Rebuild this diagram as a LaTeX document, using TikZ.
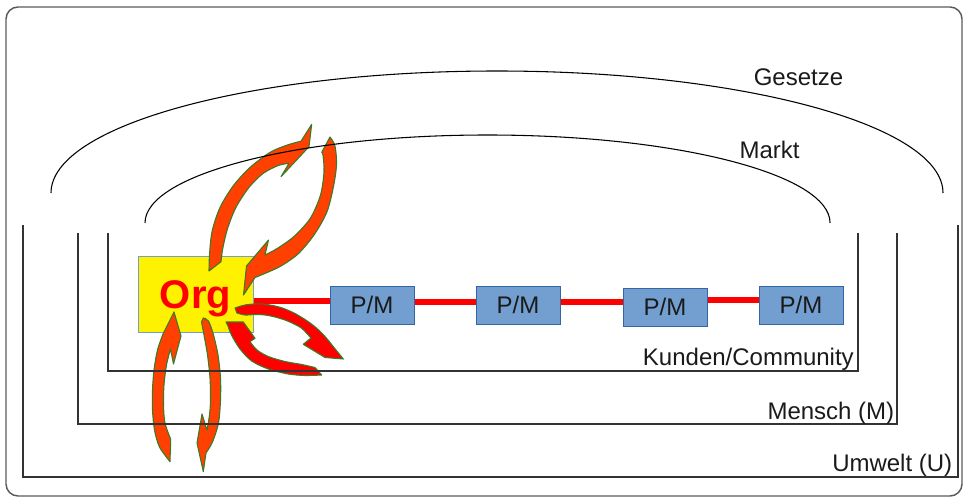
\documentclass[tikz,border=0pt]{standalone}
\usepackage{fontspec}
\setmainfont{Liberation Sans}
\usetikzlibrary{calc}
\definecolor{pmfill}{HTML}{729FCF}
\definecolor{pmdraw}{HTML}{3465A4}
\definecolor{orgdraw}{HTML}{729FCF}
\definecolor{arrowa}{HTML}{FF4000}
\definecolor{arrowb}{HTML}{FF0000}
\definecolor{arrowedge}{HTML}{3A7A28}
\definecolor{framecol}{HTML}{5A5A5A}
\definecolor{linecol}{HTML}{333333}
\definecolor{txtcol}{HTML}{1A1A1A}
\begin{document}
\begin{tikzpicture}[x=0.75pt,y=-0.75pt,
  lbl/.style={inner sep=0pt, text=txtcol, font=\fontsize{18}{21}\selectfont},
  pmbox/.style={draw=pmdraw, fill=pmfill, line width=0.75pt, minimum width=63pt, minimum height=28.5pt, inner sep=0pt, text height=12.9pt, text depth=0pt, font=\fontsize{18}{21}\selectfont, text=txtcol},
  orgbox/.style={draw=orgdraw, fill=yellow, line width=0.75pt, minimum width=86.25pt, minimum height=57pt, inner sep=0pt, text height=21.5pt, text depth=0pt, font=\bfseries\fontsize{30}{30}\selectfont, text=red},
  redline/.style={draw=red, line width=4.5pt},
  swoosh/.style={draw=arrowedge, line width=0.8pt, line join=round},
  hull/.style={draw=linecol, line width=1pt},
  arcline/.style={draw=black, line width=0.8pt},
]
\useasboundingbox (0,0) rectangle (967,499);
% outer frame
\draw[draw=framecol, line width=1.1pt, rounded corners=9pt] (6,7) rectangle (962,496);

% boxes
\node[orgbox] (org) at (195.5,294) {Org};
\node[pmbox] (pm1) at (372,305) {P/M};
\node[pmbox] (pm2) at (518,305) {P/M};
\node[pmbox] (pm3) at (665,307) {P/M};
\node[pmbox] (pm4) at (801,305) {P/M};

% red connectors
\draw[redline] ([yshift=-5.25pt]org.east) -- ([yshift=3pt]pm1.west);
\draw[redline] ([yshift=2.6pt]pm1.east) -- ([yshift=2.6pt]pm2.west);
\draw[redline] ([yshift=2.2pt]pm2.east) -- ([yshift=3.7pt]pm3.west);
\draw[redline] ([yshift=4.9pt]pm3.east) -- ([yshift=3.4pt]pm4.west);

% top pair (to Markt)
\filldraw[swoosh, fill=arrowa] plot[smooth] coordinates {(209,271) (209.5,255) (212,231.7) (220,207.5) (233.5,185.5) (250.5,167) (270.7,152) (288.3,144.7) (301,141.2)}
  -- (311.7,124.3) -- (309,146.7) -- (281,176.7) -- (289,163.3)
  -- plot[smooth] coordinates {(289,163.3) (278.3,165.5) (263.3,173.3) (248.8,187.7) (235.8,207.7) (227.5,228.8) (222.8,248.3) (221,261.7)} -- cycle;
\filldraw[swoosh, fill=arrowa] plot[smooth] coordinates {(330,137) (335,146) (336.5,165) (333.2,188) (326.7,212.5) (314,235) (298,254) (281,266) (266,273) (255,277.5)}
  -- (243.5,295) -- (246.5,266) -- (268.5,240) -- (265,255)
  -- plot[smooth] coordinates {(265,255) (278,248) (294.5,236) (310.5,218) (320.5,195) (324,172) (323,155) (321.7,152.3)} -- cycle;

% bottom pair (to Mensch / Umwelt)
\filldraw[swoosh, fill=arrowa] plot[smooth] coordinates {(170,461.7) (159.5,447) (154.5,430) (152.5,410) (152.5,390) (154,370) (157.5,350) (163,334)}
  -- (174,312) -- (181,336) -- (173.5,364) -- (170.5,349)
  -- plot[smooth] coordinates {(170.5,349) (166.5,365) (164,385) (163.5,405) (165,423) (170.7,439.3)} -- cycle;
\filldraw[swoosh, fill=arrowa] plot[smooth] coordinates {(203.3,318) (208.5,321) (213.5,335) (218,355) (220.5,378) (220.5,400) (218.5,423) (212.5,442) (206,453)}
  -- (203.3,471.7) -- (197,443) -- (202,414) -- (207,430)
  -- plot[smooth] coordinates {(207,430) (209.5,415) (210.5,400) (210,378) (207.5,355) (204,335) (201.5,322)} -- cycle;

% right pair (to Kunden/Community)
\filldraw[swoosh, fill=arrowb] plot[smooth] coordinates {(235,308) (245,305) (258.3,303.8) (270,305) (281.7,307.8) (294,313) (305,319.5) (314,326) (321.7,333) (328,340) (333.3,346.7)}
  -- (343.3,359) -- (325,357.5) -- (303.3,344.3) -- (311,338)
  -- plot[smooth] coordinates {(311,338) (301.7,328.3) (292,323) (285,320) (275,317) (265,315) (255,314.5) (245,315) (237,313)} -- cycle;
\filldraw[swoosh, fill=arrowb] plot[smooth] coordinates {(321.7,375) (305,375.5) (288.3,374) (268.3,369) (251.7,361) (240,349) (231.7,335.5) (228,326)}
  -- (226,322) -- (243.3,322) -- (255,338.3) -- (250,341.7)
  -- plot[smooth] coordinates {(250,341.7) (257,350) (268.3,356.5) (285,361.5) (301.7,364.5) (315,367.5)} -- cycle;

% arcs
\draw[arcline] (51,193) arc[start angle=180, end angle=0, x radius=334.5pt, y radius=91.5pt];
\draw[arcline] (145,223) arc[start angle=180, end angle=0, x radius=256.9pt, y radius=66pt];

% nested open boxes
\draw[hull] (23,225) -- (23,477) -- (958,477) -- (958,225);
\draw[hull] (78,233) -- (78,424) -- (897,424) -- (897,233);
\draw[hull] (108,233) -- (108,371) -- (858,371) -- (858,233);

% labels
\node[lbl, anchor=base] (gesetze) at (798.5,86) {Gesetze};
\node[lbl, anchor=base] (markt) at (769.5,159) {Markt};
\node[lbl, anchor=base east] (kunden) at (854,365.5) {Kunden/Community};
\node[lbl, anchor=base east] (mensch) at (894.5,419) {Mensch (M)};
\node[lbl, anchor=base east] (umwelt) at (952.5,471.5) {Umwelt (U)};
\end{tikzpicture}
\end{document}
